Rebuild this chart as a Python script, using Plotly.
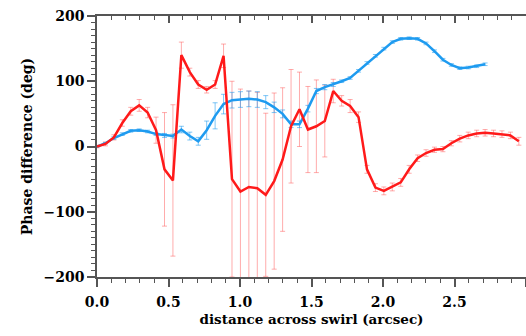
import numpy as np
import plotly.graph_objects as go

step = 0.059
red_y = [0, 4, 14, 36, 54, 63, 52, 25, -35, -52, 140, 114, 95, 87, 95, 139,
         -50, -69, -62, -64, -74, -53, -20, 31, 57, 26, 31, 39, 85, 70, 62, 45,
         -35, -63, -68, -62, -55, -35, -18, -10, -5, -4, 5, 12, 17, 20, 21, 20,
         19, 17, 8]
red_err = [2, 3, 4, 5, 6, 9, 8, 20, 87, 116, 20, 6, 6, 5, 6, 18,
           150, 157, 147, 147, 125, 135, 110, 87, 57, 66, 71, 55, 18, 8, 10, 8,
           6, 6, 6, 6, 6, 6, 5, 5, 4, 4, 4, 5, 5, 5, 5, 5,
           5, 5, 6]
blue_y = [0, 5, 13, 19, 24, 25, 23, 19, 17, 16, 26, 16, 8, 25, 47, 65,
          71, 72, 73, 72, 68, 60, 50, 34, 34, 58, 85, 91, 95, 100, 105, 116,
          128, 139, 150, 160, 165, 166, 165, 158, 146, 133, 125, 120, 121, 123, 126]
blue_err = [1, 1, 2, 2, 2, 2, 2, 2, 3, 3, 5, 6, 6, 14, 20, 15,
            12, 12, 12, 12, 10, 8, 6, 5, 5, 5, 4, 4, 3, 2, 2, 2,
            2, 2, 2, 2, 2, 2, 2, 2, 2, 2, 2, 2, 2, 2, 2]

red_x = [i * step for i in range(len(red_y))]
blue_x = [i * step for i in range(len(blue_y))]

RED = "#ff1a1a"
BLUE = "#1e9bf0"
FONT = "DejaVu Serif"
AX = "#555"

fig = go.Figure()
fig.add_trace(go.Scatter(x=red_x, y=red_y, mode="markers",
                         marker=dict(size=1, color="rgba(0,0,0,0)"),
                         error_y=dict(type="data", array=red_err, color="rgba(255,90,90,0.5)",
                                      thickness=1, width=2.5),
                         showlegend=False, hoverinfo="skip"))
fig.add_trace(go.Scatter(x=blue_x, y=blue_y, mode="markers",
                         marker=dict(size=1, color="rgba(0,0,0,0)"),
                         error_y=dict(type="data", array=blue_err, color="rgba(40,160,240,0.6)",
                                      thickness=1, width=2.5),
                         showlegend=False, hoverinfo="skip"))
fig.add_trace(go.Scatter(x=blue_x, y=blue_y, mode="lines",
                         line=dict(color=BLUE, width=2.5), showlegend=False))
fig.add_trace(go.Scatter(x=red_x, y=red_y, mode="lines",
                         line=dict(color=RED, width=2.5), showlegend=False))
fig.add_trace(go.Scatter(x=red_x, y=red_y, mode="markers", xaxis="x2",
                         marker=dict(size=1, color="rgba(0,0,0,0)"),
                         showlegend=False, hoverinfo="skip"))

axis_common = dict(showgrid=False, zeroline=False, showline=True, linecolor=AX,
                   linewidth=1.5, tickcolor=AX, tickwidth=1.5)

fig.update_layout(
    xaxis=dict(range=[0, 3.0], dtick=0.5, tick0=0, tickformat=".1f", ticklen=8,
               ticks="outside", ticklabelstandoff=3,
               tickfont=dict(family=FONT, size=14, color="black", weight="bold"),
               minor=dict(dtick=0.1, ticklen=4, ticks="outside", tickcolor=AX, tickwidth=1.2,
                          showgrid=False),
               title=dict(text="<b>distance across swirl (arcsec)</b>",
                          font=dict(family=FONT, size=13.5, color="black"), standoff=6),
               **axis_common),
    xaxis2=dict(range=[0, 3.0], dtick=0.5, tick0=0, ticklen=7, ticks="inside",
                anchor="y", side="top", overlaying="x",
                showticklabels=False,
                minor=dict(dtick=0.1, ticklen=4, ticks="inside", tickcolor=AX, tickwidth=1.2,
                           showgrid=False),
                **axis_common),
    yaxis=dict(range=[-200, 200], dtick=100, tick0=0, ticklen=8, ticks="outside",
               tickfont=dict(family=FONT, size=14, color="black", weight="bold"),
               minor=dict(dtick=10, ticklen=4, ticks="outside", tickcolor=AX, tickwidth=1.2),
               title=dict(text="<b>Phase difference (deg)</b>",
                          font=dict(family=FONT, size=14, color="black"), standoff=8),
               **axis_common),
    width=526, height=336,
    margin=dict(l=97, r=0, t=16, b=59),
    plot_bgcolor="white", paper_bgcolor="white")

fig.write_html("out.html")
